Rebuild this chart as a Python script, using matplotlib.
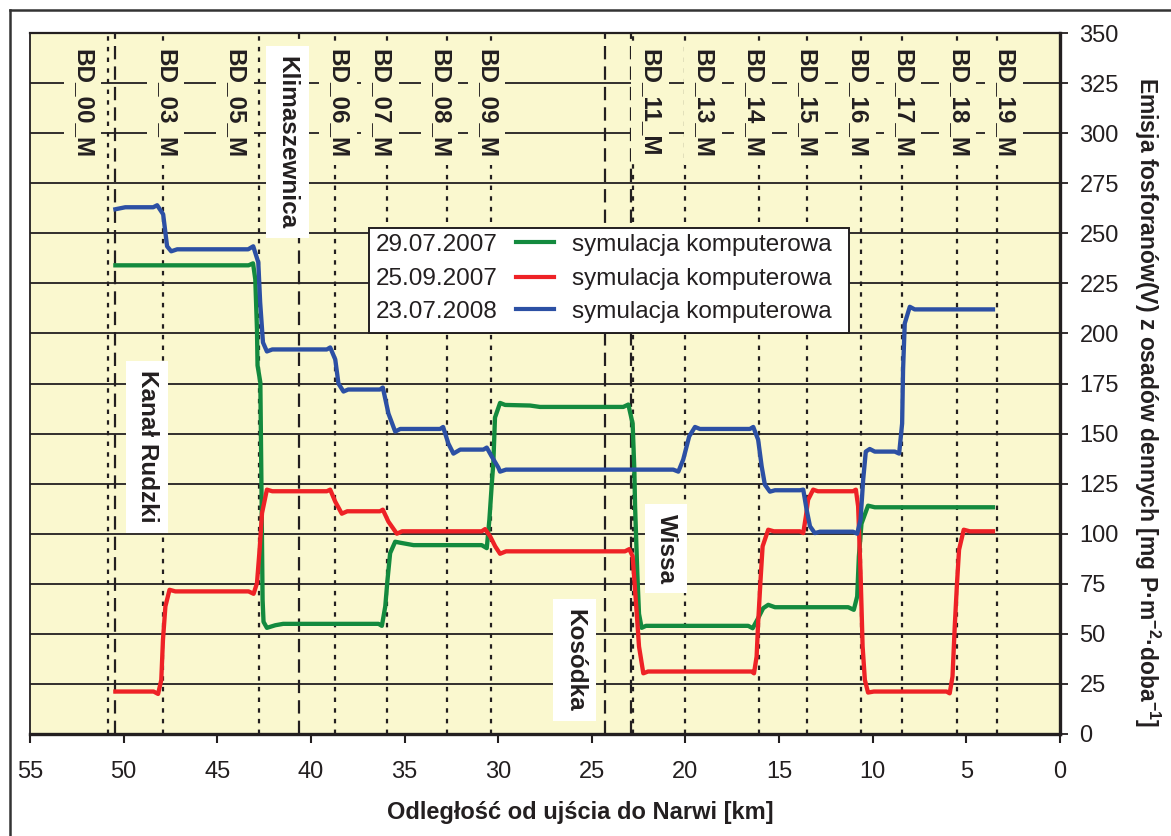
import matplotlib
matplotlib.use("Agg")
import matplotlib.pyplot as plt
from matplotlib.patches import Rectangle
from matplotlib.lines import Line2D

plt.rcParams['font.family'] = ['Liberation Sans', 'DejaVu Sans']
plt.rcParams['mathtext.fontset'] = 'custom'
plt.rcParams['mathtext.rm'] = 'Liberation Sans'
plt.rcParams['mathtext.bf'] = 'Liberation Sans:bold'

# ---------------- data ----------------
green_km = [50.44, 43.33, 43.09, 42.97, 42.88, 42.85, 42.70, 42.65, 42.58, 42.53, 42.35, 41.90, 41.48,
            36.39, 36.21, 36.03, 35.91, 35.77, 35.50, 35.23, 34.52, 30.88, 30.61, 30.47, 30.34, 30.26,
            30.17, 29.90, 29.63, 28.30, 27.77, 23.32, 23.05, 22.82, 22.73, 22.69, 22.57, 22.48, 22.34,
            22.11, 16.65, 16.41, 16.12, 15.85, 15.58, 15.22, 11.31, 11.01, 10.83, 10.74, 10.60, 10.25,
            9.89, 3.58]
green_val = [234, 234, 235, 227, 202, 184, 175.5, 132, 67, 56, 53, 54.3, 55,
             55, 54, 63.7, 77, 90.3, 96, 95.5, 94.3, 94.3, 92.8, 107, 125, 135,
             158, 165.3, 164.3, 164, 163.3, 163.3, 164.5, 155, 132, 113.7, 80, 60, 53,
             54, 54, 52.8, 57.8, 62.8, 64.5, 63.3, 63.3, 62, 68.7, 88.7, 105, 114,
             113.2, 113.2]

red_km = [50.44, 48.40, 48.16, 47.99, 47.90, 47.77, 47.55, 47.24, 43.33, 43.06, 42.88, 42.74, 42.61,
          42.35, 42.06, 39.15, 38.97, 38.70, 38.35, 38.06, 36.31, 36.16, 35.86, 35.41, 35.13, 30.88,
          30.70, 30.43, 30.16, 29.90, 29.58, 23.23, 23.00, 22.82, 22.73, 22.60, 22.48, 22.25, 22.00,
          16.47, 16.34, 16.20, 16.12, 15.99, 15.88, 15.58, 15.28, 13.89, 13.71, 13.57, 13.45, 13.18,
          12.93, 11.05, 10.90, 10.78, 10.65, 10.54, 10.42, 10.25, 9.94, 6.06, 5.89, 5.74, 5.62, 5.50,
          5.39, 5.14, 4.82, 3.58]
red_val = [21.2, 21.2, 20, 27, 47, 63.7, 72, 71.2, 71.2, 70, 75.3, 92, 110.3,
           122, 121.2, 121.2, 122, 116, 110, 111.2, 111.2, 112, 106, 100, 101.2, 101.2,
           102.3, 98.7, 93.7, 90, 91.2, 91.2, 92.3, 88.7, 77, 60, 43.7, 30.3, 31.2,
           31.2, 30.3, 38.7, 55.3, 77, 93.7, 102, 101.2, 101.2, 100.3, 108.7, 117, 122,
           121.2, 121.2, 122, 113.7, 80.3, 43.7, 27, 20.7, 21.2, 21.2, 20.3, 28.7, 53.7, 75.3,
           92, 102, 101.2, 101.2]

blue_km = [50.44, 49.91, 48.42, 48.21, 47.89, 47.68, 47.46, 47.14, 43.35, 43.08, 42.81, 42.71, 42.56,
           42.35, 42.06, 39.15, 38.97, 38.70, 38.53, 38.26, 38.01, 36.31, 36.16, 35.86, 35.50, 35.23,
           33.10, 32.94, 32.66, 32.39, 32.03, 30.79, 30.61, 30.34, 29.99, 29.90, 29.58, 20.65, 20.38,
           20.12, 19.80, 19.49, 19.23, 16.56, 16.38, 16.12, 15.93, 15.76, 15.49, 15.22, 13.89, 13.71,
           13.53, 13.35, 13.09, 12.82, 11.05, 10.83, 10.65, 10.51, 10.37, 10.16, 9.89, 8.82, 8.59,
           8.43, 8.38, 8.29, 8.02, 7.76, 3.58]
blue_val = [262, 263, 263, 264, 259.5, 243.5, 241, 242, 242, 243.5, 235.5, 215.5, 195.5,
            191, 192, 192, 193, 187, 175, 171, 172, 172, 173, 160, 151, 152.3,
            152.3, 153.3, 145, 140, 142, 142, 143, 138.5, 133, 131, 132, 132, 131,
            137, 148.6, 153.3, 152.3, 152.3, 153.3, 147, 133.6, 124.5, 121, 121.7, 121.7, 122,
            112, 103.7, 100.3, 101, 101, 100, 107, 127, 141, 142.3, 141, 141, 140,
            155, 182, 205, 213.3, 212, 212]

series_dates = ['29.07.2007', '25.09.2007', '23.07.2008']
series_name = 'symulacja komputerowa'

station_names = ['BD_00_M', 'BD_03_M', 'BD_05_M', 'BD_06_M', 'BD_07_M', 'BD_08_M', 'BD_09_M',
                 'BD_11_M', 'BD_13_M', 'BD_14_M', 'BD_15_M', 'BD_16_M', 'BD_17_M', 'BD_18_M', 'BD_19_M']
station_km = [50.85, 47.88, 42.76, 38.69, 35.94, 32.74, 30.39, 22.80, 20.03, 16.08, 13.52, 10.65,
              8.45, 5.51, 3.39]
tributary_names = ['Kanał Rudzki', 'Klimaszewnica', 'Kosódka', 'Wissa']
tributary_km = [50.44, 40.63, 24.30, 22.92]

x_ticks = [55, 50, 45, 40, 35, 30, 25, 20, 15, 10, 5, 0]
y_ticks = [0, 25, 50, 75, 100, 125, 150, 175, 200, 225, 250, 275, 300, 325, 350]

# layout (label placement)
station_label_x = [52.20, 47.77, 44.04, 38.54, 36.30, 33.13, 30.62, 21.90, 19.07, 16.40, 13.57,
                   10.85, 8.40, 5.48, 3.00]
station_label_y = 315
trib_label_xy = [(48.74, 143.5), (41.26, 295.5), (25.93, 37), (21.04, 92.5)]

# ---------------- figure ----------------
W, H = 1171, 836
fig = plt.figure(figsize=(W / 100, H / 100), dpi=100)
ax = fig.add_axes([30 / W, 1 - 734 / H, 1030 / W, 701 / H])
bg = '#FAF8CF'
ax.set_facecolor(bg)
ink = '#231F20'
FS = 17.5

ax.set_xlim(55, 0)
ax.set_ylim(0, 350)

for v in y_ticks[1:-1]:
    ax.axhline(v, color=ink, lw=1.3, zorder=1)

for k in station_km:
    ax.axvline(k, color=ink, lw=1.6, dashes=(2.0, 2.8), zorder=1.5)
for k in tributary_km:
    ax.axvline(k, color=ink, lw=1.6, dashes=(6.0, 3.2), zorder=1.5)

cols = ['#138A3E', '#EE2226', '#2C50A4']
ax.plot(green_km, green_val, color=cols[0], lw=3.1, zorder=4, solid_joinstyle='round')
ax.plot(red_km, red_val, color=cols[1], lw=3.1, zorder=4.1, solid_joinstyle='round')
ax.plot(blue_km, blue_val, color=cols[2], lw=3.1, zorder=4.2, solid_joinstyle='round')

for name, lx in zip(station_names, station_label_x):
    ax.text(lx, station_label_y, name, rotation=270, ha='center', va='center',
            fontsize=FS, fontweight='bold', color=ink, zorder=3,
            bbox=dict(boxstyle='square,pad=0.3', fc=bg, ec='none'))

for name, (lx, ly) in zip(tributary_names, trib_label_xy):
    ax.text(lx, ly, name, rotation=270, ha='center', va='center',
            fontsize=FS, fontweight='bold', color=ink, zorder=3,
            bbox=dict(boxstyle='square,pad=0.4', fc='white', ec='none'))

# ticks
ax.set_xticks(x_ticks)
ax.set_xticklabels([str(t) for t in x_ticks])
ax.set_yticks(y_ticks)
ax.set_yticklabels([str(t) for t in y_ticks])
ax.yaxis.tick_right()
ax.tick_params(axis='x', length=6.5, width=1.5, pad=13, labelsize=17, colors=ink)
ax.tick_params(axis='y', length=6, width=1.3, pad=8, labelsize=17, colors=ink)
ax.spines['left'].set_linewidth(1.3)
ax.spines['top'].set_linewidth(1.6)
ax.spines['right'].set_linewidth(2.4)
ax.spines['bottom'].set_linewidth(2.4)
for s in ax.spines.values():
    s.set_color(ink)
    s.set_zorder(6)

# legend (manual layout to reproduce "date — text" rows)
ax.add_patch(Rectangle((0.329, 0.572), 0.466, 0.150, transform=ax.transAxes,
                       fc='white', ec=ink, lw=1.4, zorder=7))
rows_y = [0.6976, 0.6486, 0.6024]
for d, c, ry in zip(series_dates, cols, rows_y):
    ax.text(0.3359, ry, d, transform=ax.transAxes, ha='left', va='center',
            fontsize=FS, color=ink, zorder=8)
    ax.add_line(Line2D([0.4716, 0.5087], [ry + 0.004, ry + 0.004], transform=ax.transAxes,
                       color=c, lw=3.0, zorder=8))
    ax.text(0.5259, ry, series_name, transform=ax.transAxes, ha='left', va='center',
            fontsize=FS, color=ink, zorder=8)

# axis titles
fig.text(580 / W, 1 - 812 / H, 'Odległość od ujścia do Narwi [km]', ha='center', va='center',
         fontsize=17, fontweight='bold', color=ink)
fig.text(1147 / W, 1 - 402 / H,
         r'Emisja fosforanów(V) z osadów dennych [mg P·m$^{\mathbf{-2}}$·doba$^{\mathbf{-1}}$]',
         rotation=270, ha='center', va='center', fontsize=16.5, fontweight='bold', color=ink)

# outer frame
fig.add_artist(Line2D([10 / W, 10 / W], [0, 1 - 10 / H], transform=fig.transFigure,
                      color='#333333', lw=1.8))
fig.add_artist(Line2D([10 / W, 1], [1 - 10 / H, 1 - 10 / H], transform=fig.transFigure,
                      color='#333333', lw=1.8))

fig.savefig('out.png', dpi=100, facecolor='white')
